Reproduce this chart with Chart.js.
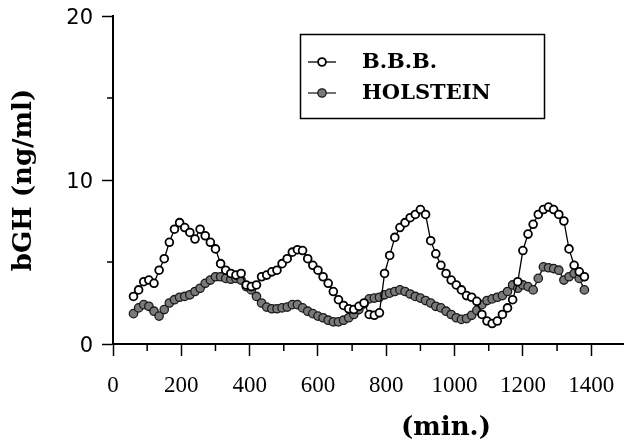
<!DOCTYPE html>
<html>
<head>
<meta charset="utf-8">
<script src="https://cdn.jsdelivr.net/npm/chart.js@4.4.1/dist/chart.umd.min.js"></script>
<style>
  html, body { margin: 0; padding: 0; background: #fff; }
  #chart { display: block; }
</style>
</head>
<body>
<canvas id="chart" width="624" height="444"></canvas>
<script>
// ── DATA ──────────────────────────────────────────────────────────
const minutes = [
  60, 75, 90, 105, 120, 135, 150, 165, 180, 195,
  210, 225, 240, 255, 270, 285, 300, 315, 330, 345,
  360, 375, 390, 405, 420, 435, 450, 465, 480, 495,
  510, 525, 540, 555, 570, 585, 600, 615, 630, 645,
  660, 675, 690, 705, 720, 735, 750, 765, 780, 795,
  810, 825, 840, 855, 870, 885, 900, 915, 930, 945,
  960, 975, 990, 1005, 1020, 1035, 1050, 1065, 1080, 1095,
  1110, 1125, 1140, 1155, 1170, 1185, 1200, 1215, 1230, 1245,
  1260, 1275, 1290, 1305, 1320, 1335, 1350, 1365, 1380
];

const bbb = [
  2.9, 3.3, 3.8, 3.9, 3.7, 4.5, 5.2, 6.2, 7.0, 7.4,
  7.1, 6.8, 6.4, 7.0, 6.6, 6.2, 5.8, 4.9, 4.5, 4.3,
  4.2, 4.3, 3.6, 3.5, 3.6, 4.1, 4.2, 4.4, 4.5, 4.9,
  5.2, 5.6, 5.75, 5.7, 5.2, 4.8, 4.5, 4.1, 3.7, 3.2,
  2.7, 2.35, 2.15, 2.1, 2.3, 2.5, 1.8, 1.75, 1.9, 4.3,
  5.4, 6.5, 7.1, 7.4, 7.7, 7.9, 8.2, 7.9, 6.3, 5.5,
  4.8, 4.3, 3.9, 3.6, 3.3, 2.95, 2.85, 2.6, 1.8, 1.4,
  1.25, 1.4, 1.8, 2.2, 2.7, 3.8, 5.7, 6.7, 7.3, 7.9,
  8.2, 8.35, 8.2, 7.9, 7.5, 5.8, 4.8, 4.4, 4.1
];

const holstein = [
  1.85, 2.2, 2.4, 2.3, 2.0, 1.7, 2.1, 2.5, 2.7, 2.85,
  2.9, 3.0, 3.2, 3.4, 3.7, 3.9, 4.1, 4.1, 4.0, 3.95,
  4.0, 3.9, 3.5, 3.3, 2.9, 2.5, 2.25, 2.15, 2.15, 2.2,
  2.25, 2.4, 2.4, 2.2, 2.0, 1.85, 1.7, 1.6, 1.45, 1.35,
  1.35, 1.45, 1.6, 1.8, 2.1, 2.45, 2.75, 2.8, 2.85, 3.0,
  3.1, 3.2, 3.3, 3.2, 3.05, 2.9, 2.8, 2.65, 2.5, 2.3,
  2.2, 2.0, 1.8, 1.6, 1.5, 1.55, 1.75, 2.05, 2.4, 2.65,
  2.75, 2.85, 2.95, 3.2, 3.6, 3.4, 3.6, 3.5, 3.3, 4.0,
  4.7, 4.65, 4.6, 4.5, 3.9, 4.1, 4.3, 4.0, 3.3
];

const seriesNames = ['B.B.B.', 'HOLSTEIN'];
const xTicks = [0, 100, 200, 300, 400, 500, 600, 700, 800, 900, 1000, 1100, 1200, 1300, 1400];
const xTickLabels = [0, 200, 400, 600, 800, 1000, 1200, 1400];
const yTicks = [0, 5, 10, 15, 20];
const yTickLabels = [0, 10, 20];
const yTitle = 'bGH (ng/ml)';
const xTitle = '(min.)';

// ── EXTRA DRAWING: minor ticks, axis run-out, x title, boxed legend ──
const extras = {
  id: 'extras',
  afterDraw(chart) {
    const { ctx } = chart;
    const xs = chart.scales.x, ys = chart.scales.y;
    ctx.save();
    ctx.strokeStyle = '#000';
    ctx.lineWidth = 1.5;
    ctx.beginPath();
    xs.ticks.forEach(t => {
      if (!xTickLabels.includes(t.value)) {
        const px = xs.getPixelForValue(t.value);
        ctx.moveTo(px, xs.top);
        ctx.lineTo(px, xs.top + 7);
      }
    });
    ys.ticks.forEach(t => {
      if (!yTickLabels.includes(t.value)) {
        const py = ys.getPixelForValue(t.value);
        ctx.moveTo(ys.right - 6, py);
        ctx.lineTo(ys.right, py);
      }
    });
    ctx.stroke();

    // x axis line runs on to the edge of the picture
    ctx.lineWidth = 2;
    ctx.beginPath();
    ctx.moveTo(xs.right - 1, xs.top);
    ctx.lineTo(chart.width, xs.top);
    ctx.stroke();

    ctx.fillStyle = '#000';
    ctx.font = 'bold 26px "DejaVu Serif"';
    ctx.textAlign = 'center';
    ctx.textBaseline = 'middle';
    ctx.fillText(xTitle, 446, 428);

    // legend box
    ctx.lineWidth = 1.5;
    ctx.strokeRect(300.5, 34.5, 244, 84);
    const rows = [62, 93];
    chart.data.datasets.forEach((ds, i) => {
      const y = rows[i];
      ctx.strokeStyle = ds.borderColor;
      ctx.lineWidth = 1.3;
      ctx.beginPath();
      ctx.moveTo(308, y);
      ctx.lineTo(336, y);
      ctx.stroke();
      ctx.beginPath();
      ctx.arc(322, y, ds.pointRadius, 0, Math.PI * 2);
      ctx.fillStyle = ds.pointBackgroundColor;
      ctx.fill();
      ctx.lineWidth = ds.pointBorderWidth;
      ctx.strokeStyle = ds.pointBorderColor;
      ctx.stroke();
      ctx.fillStyle = '#000';
      ctx.font = 'bold 21px "DejaVu Serif"';
      ctx.textAlign = 'left';
      ctx.textBaseline = 'middle';
      ctx.fillText(ds.label, 362, y + 1);
    });
    ctx.restore();
  }
};

new Chart(document.getElementById('chart'), {
  type: 'line',
  data: {
    datasets: [
      {
        label: seriesNames[0],
        data: minutes.map((m, i) => ({ x: m, y: bbb[i] })),
        borderColor: '#000',
        borderWidth: 1.3,
        pointRadius: 3.9,
        pointBackgroundColor: '#fff',
        pointBorderColor: '#000',
        pointBorderWidth: 1.8,
        tension: 0,
      },
      {
        label: seriesNames[1],
        data: minutes.map((m, i) => ({ x: m, y: holstein[i] })),
        borderColor: '#222',
        borderWidth: 1.5,
        pointRadius: 4.2,
        pointBackgroundColor: '#7a7a7a',
        pointBorderColor: '#1a1a1a',
        pointBorderWidth: 1.3,
        tension: 0,
      }
    ]
  },
  options: {
    responsive: false,
    animation: false,
    layout: { padding: { top: 16, right: -6, bottom: 0, left: 0 } },
    plugins: { legend: { display: false }, tooltip: { enabled: false } },
    scales: {
      x: {
        type: 'linear',
        min: 0,
        max: 1479,
        afterBuildTicks: s => { s.ticks = xTicks.map(v => ({ value: v })); },
        afterFit: s => { s.height = 100; s.paddingLeft = 0; s.paddingRight = 0; },
        border: { display: true, color: '#000', width: 2 },
        grid: {
          drawOnChartArea: false,
          tickLength: 12,
          tickWidth: 1.5,
          tickColor: c => xTickLabels.includes(c.tick.value) ? '#000' : 'rgba(0,0,0,0)',
        },
        ticks: {
          autoSkip: false,
          maxRotation: 0,
          padding: 16,
          color: '#000',
          font: { family: '"Liberation Serif"', size: 23 },
          callback: v => xTickLabels.includes(v) ? String(v) : '',
        },
      },
      y: {
        min: 0,
        max: 20,
        afterBuildTicks: s => { s.ticks = yTicks.map(v => ({ value: v })); },
        afterFit: s => { s.width = 113; s.paddingTop = 0; s.paddingBottom = 0; },
        border: { display: true, color: '#000', width: 2 },
        grid: {
          drawOnChartArea: false,
          tickLength: 11,
          tickWidth: 1.5,
          tickColor: c => yTickLabels.includes(c.tick.value) ? '#000' : 'rgba(0,0,0,0)',
        },
        ticks: {
          padding: 9,
          labelOffset: 3,
          color: '#000',
          font: { family: '"DejaVu Sans"', size: 21 },
          callback: v => yTickLabels.includes(v) ? String(v) : '',
        },
        title: {
          display: true,
          text: yTitle,
          color: '#000',
          font: { family: '"DejaVu Serif"', size: 26, weight: 'bold' },
          padding: { top: 9, bottom: 0 },
        },
      }
    }
  },
  plugins: [extras]
});
</script>
</body>
</html>
